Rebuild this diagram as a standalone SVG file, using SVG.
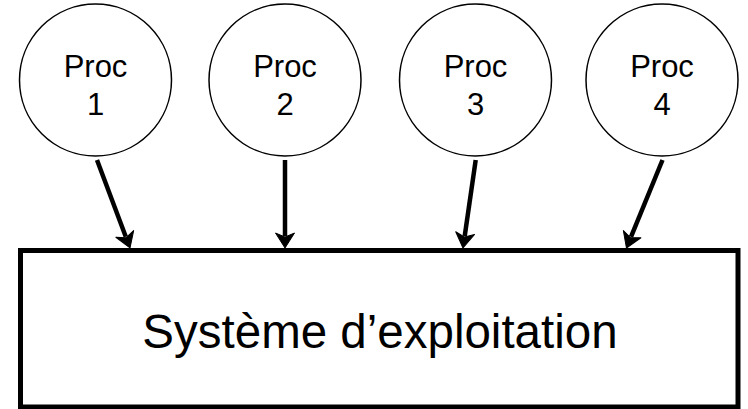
<svg xmlns="http://www.w3.org/2000/svg" width="748" height="409" viewBox="0 0 748 409">
  <style>
    .proc { fill: #ffffff; stroke: #000000; stroke-width: 1.5; }
    .lbl { font-family: "Liberation Sans", Arial, sans-serif; font-size: 31px; fill: #000000; text-anchor: middle; }
    .os { fill: #ffffff; stroke: #000000; stroke-width: 5; }
    .oslbl { font-family: "Liberation Sans", Arial, sans-serif; font-size: 47.5px; fill: #000000; text-anchor: middle; }
    .conn { stroke: #000000; stroke-width: 4.5; fill: none; marker-end: url(#arrow); }
  </style>
  <defs>
    <marker id="arrow" markerUnits="userSpaceOnUse" viewBox="-8 -12 24 24" markerWidth="24" markerHeight="24" refX="0" refY="0" orient="auto">
      <path d="M12,0 L-3,-9.5 L1,0 L-3,9.5 Z" fill="#000000" stroke="#000000" stroke-width="1" stroke-linejoin="round"/>
    </marker>
  </defs>
  <rect width="748" height="409" fill="#ffffff"/>
  <g id="os">
    <rect class="os" x="20.5" y="250.5" width="717.5" height="156.5"/>
    <text class="oslbl" x="380" y="348">Système d’exploitation</text>
  </g>
  <g id="proc1">
    <circle class="proc" cx="95.5" cy="80" r="76"/>
    <text class="lbl" x="95.5" y="77">Proc</text>
    <text class="lbl" x="95.5" y="115">1</text>
  </g>
  <g id="proc2">
    <circle class="proc" cx="285" cy="80" r="76"/>
    <text class="lbl" x="285" y="77">Proc</text>
    <text class="lbl" x="285" y="115">2</text>
  </g>
  <g id="proc3">
    <circle class="proc" cx="475.5" cy="80" r="76"/>
    <text class="lbl" x="475.5" y="77">Proc</text>
    <text class="lbl" x="475.5" y="115">3</text>
  </g>
  <g id="proc4">
    <circle class="proc" cx="662" cy="80" r="76"/>
    <text class="lbl" x="662" y="77">Proc</text>
    <text class="lbl" x="662" y="115">4</text>
  </g>
  <g id="connectors">
    <line class="conn" x1="97" y1="160" x2="125.8" y2="236.7"/>
    <line class="conn" x1="285" y1="160" x2="285" y2="236"/>
    <line class="conn" x1="475.7" y1="160" x2="464.7" y2="236.1"/>
    <line class="conn" x1="662.5" y1="160" x2="631" y2="236.9"/>
  </g>
</svg>
